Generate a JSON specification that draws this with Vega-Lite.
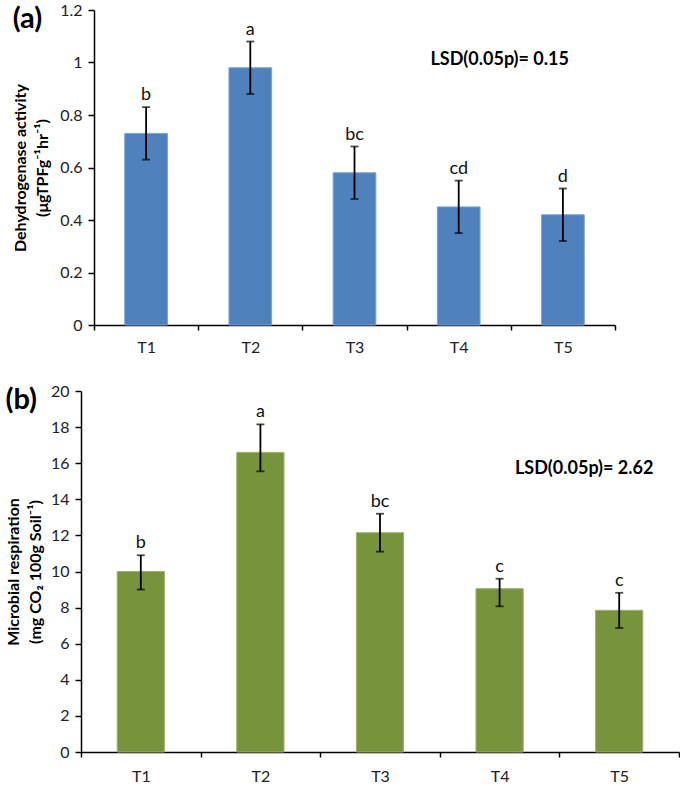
{
  "$schema": "https://vega.github.io/schema/vega-lite/v6.json",
  "padding": {"left": 5, "top": 2, "right": 0, "bottom": 0},
  "background": "white",
  "config": {
    "font": "Lato",
    "view": {"stroke": null},
    "axis": {"domainColor": "#000", "tickColor": "#000", "domainWidth": 1.5, "tickWidth": 1.5, "labelColor": "#222", "labelFont": "Lato", "titleFont": "Lato", "titleColor": "#000", "grid": false, "labelOverlap": false}
  },
  "datasets": {
    "a": [
      {"t": "T1", "v": 0.73, "lo": 0.63, "hi": 0.83, "lab": "b"},
      {"t": "T2", "v": 0.98, "lo": 0.88, "hi": 1.08, "lab": "a"},
      {"t": "T3", "v": 0.58, "lo": 0.48, "hi": 0.68, "lab": "bc"},
      {"t": "T4", "v": 0.45, "lo": 0.35, "hi": 0.55, "lab": "cd"},
      {"t": "T5", "v": 0.42, "lo": 0.32, "hi": 0.52, "lab": "d"}
    ],
    "b": [
      {"t": "T1", "v": 10.0, "lo": 9.0, "hi": 10.9, "lab": "b"},
      {"t": "T2", "v": 16.6, "lo": 15.55, "hi": 18.15, "lab": "a"},
      {"t": "T3", "v": 12.15, "lo": 11.1, "hi": 13.2, "lab": "bc"},
      {"t": "T4", "v": 9.05, "lo": 8.07, "hi": 9.6, "lab": "c"},
      {"t": "T5", "v": 7.85, "lo": 6.87, "hi": 8.82, "lab": "c"}
    ],
    "lsda": [{"t": "T4", "y": 1.01, "txt": "LSD(0.05p)= 0.15"}],
    "lsdb": [{"t": "T5", "y": 15.68, "txt": "LSD(0.05p)= 2.62"}]
  },
  "spacing": 28,
  "vconcat": [
    {
      "width": 534,
      "height": 315,
      "title": {"text": "(a)", "anchor": "start", "frame": "bounds", "orient": "top", "offset": -32, "fontSize": 29, "fontWeight": "bold", "font": "Lato", "color": "#000"},
      "data": {"name": "a"},
      "encoding": {
        "x": {"field": "t", "type": "nominal", "scale": {"paddingInner": 0, "paddingOuter": 0, "range": [13, 534]},
              "axis": {"title": null, "labelAngle": 0, "labelFontSize": 16, "tickBand": "extent", "tickSize": 5, "labelPadding": 9}},
        "y": {"type": "quantitative", "scale": {"domain": [0, 1.2]},
              "axis": {"offset": -13, "values": [0, 0.2, 0.4, 0.6, 0.8, 1, 1.2], "format": ".2~f", "labelFontSize": 16, "tickSize": 6, "labelPadding": 6,
                       "title": ["Dehydrogenase activity", "(μgTPFg⁻¹hr⁻¹)"], "titleFontSize": 16, "titleFontWeight": "bold", "titlePadding": 9, "titleLineHeight": 22}}
      },
      "layer": [
        {
          "mark": {"type": "bar", "width": {"band": 0.41}, "color": "#4F81BD", "stroke": "#7fa3d0", "strokeWidth": 1},
          "encoding": {"y": {"field": "v"}}
        },
        {
          "mark": {"type": "rule", "color": "#000", "strokeWidth": 1.8},
          "encoding": {"y": {"field": "lo"}, "y2": {"field": "hi"}}
        },
        {
          "mark": {"type": "tick", "color": "#000", "size": 8, "thickness": 1.8},
          "encoding": {"y": {"field": "hi"}}
        },
        {
          "mark": {"type": "tick", "color": "#000", "size": 8, "thickness": 1.8},
          "encoding": {"y": {"field": "lo"}}
        },
        {
          "mark": {"type": "text", "fontSize": 18, "color": "#111", "baseline": "alphabetic", "dy": -7},
          "encoding": {"y": {"field": "hi"}, "text": {"field": "lab"}}
        },
        {
          "data": {"name": "lsda"},
          "mark": {"type": "text", "fontSize": 18, "fontWeight": "bold", "color": "#000", "baseline": "middle", "dx": 41},
          "encoding": {"y": {"field": "y"}, "text": {"field": "txt"}}
        }
      ]
    },
    {
      "width": 598,
      "height": 361,
      "title": {"text": "(b)", "anchor": "start", "frame": "bounds", "orient": "top", "offset": -32, "fontSize": 29, "fontWeight": "bold", "font": "Lato", "color": "#000"},
      "data": {"name": "b"},
      "encoding": {
        "x": {"field": "t", "type": "nominal", "scale": {"paddingInner": 0, "paddingOuter": 0},
              "axis": {"title": null, "labelAngle": 0, "labelFontSize": 16, "tickBand": "extent", "tickSize": 5, "labelPadding": 11}},
        "y": {"type": "quantitative", "scale": {"domain": [0, 20]},
              "axis": {"values": [0, 2, 4, 6, 8, 10, 12, 14, 16, 18, 20], "labelFontSize": 16, "tickSize": 6, "labelPadding": 6,
                       "title": ["Microbial respiration", "(mg CO₂ 100g Soil⁻¹)"], "titleFontSize": 16, "titleFontWeight": "bold", "titlePadding": 7, "titleLineHeight": 22}}
      },
      "layer": [
        {
          "mark": {"type": "bar", "width": {"band": 0.395}, "color": "#77933C", "stroke": "#9bb56a", "strokeWidth": 1},
          "encoding": {"y": {"field": "v"}}
        },
        {
          "mark": {"type": "rule", "color": "#000", "strokeWidth": 1.8},
          "encoding": {"y": {"field": "lo"}, "y2": {"field": "hi"}}
        },
        {
          "mark": {"type": "tick", "color": "#000", "size": 8, "thickness": 1.8},
          "encoding": {"y": {"field": "hi"}}
        },
        {
          "mark": {"type": "tick", "color": "#000", "size": 8, "thickness": 1.8},
          "encoding": {"y": {"field": "lo"}}
        },
        {
          "mark": {"type": "text", "fontSize": 18, "color": "#111", "baseline": "alphabetic", "dy": -7},
          "encoding": {"y": {"field": "hi"}, "text": {"field": "lab"}}
        },
        {
          "data": {"name": "lsdb"},
          "mark": {"type": "text", "fontSize": 18, "fontWeight": "bold", "color": "#000", "baseline": "middle", "dx": -35},
          "encoding": {"y": {"field": "y"}, "text": {"field": "txt"}}
        }
      ]
    }
  ]
}
